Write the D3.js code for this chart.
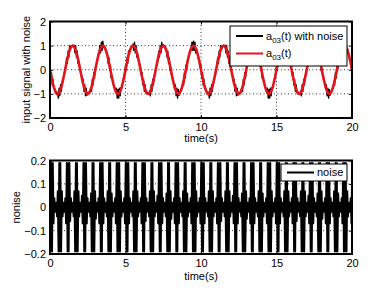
<!DOCTYPE html>
<html>
<head>
  <meta charset="utf-8"/>
  <style>
    body { margin: 0; background: #fff; }
    svg { display: block; font-family: "Liberation Sans", Arial, sans-serif; }
    .grid line { stroke: #000; stroke-width: 0.8; stroke-dasharray: 1,2.5; }
    .axis text { font-size: 11px; fill: #000; }
    .axis line { stroke: #000; }
    .axis path { display: none; }
  </style>
</head>
<body>
  <div id="chart"></div>
  <script src="https://d3js.org/d3.v7.min.js"></script>
  <script>
    // samples every 0.05 s from 0 to 20 s
    let dt = 0.05;
    let xTicks = [0, 5, 10, 15, 20];
    let topYTicks = [-2, -1, 0, 1, 2];
    let botYTicks = [-0.2, -0.1, 0, 0.1, 0.2];

    // a03(t), red curve
    let a03 = [
      0,-.16,-.31,-.45,-.59,-.71,-.81,-.89,-.95,-.99,-1,-.99,-.95,-.89,-.81,-.71,-.59,-.45,-.31,-.16,0,.16,.31,.45,.59,.71,.81,.89,.95,.99,1,.99,.95,.89,.81,.71,.59,.45,.31,.16,
      0,-.16,-.31,-.45,-.59,-.71,-.81,-.89,-.95,-.99,-1,-.99,-.95,-.89,-.81,-.71,-.59,-.45,-.31,-.16,0,.16,.31,.45,.59,.71,.81,.89,.95,.99,1,.99,.95,.89,.81,.71,.59,.45,.31,.16,
      0,-.16,-.31,-.45,-.59,-.71,-.81,-.89,-.95,-.99,-1,-.99,-.95,-.89,-.81,-.71,-.59,-.45,-.31,-.16,0,.16,.31,.45,.59,.71,.81,.89,.95,.99,1,.99,.95,.89,.81,.71,.59,.45,.31,.16,
      0,-.16,-.31,-.45,-.59,-.71,-.81,-.89,-.95,-.99,-1,-.99,-.95,-.89,-.81,-.71,-.59,-.45,-.31,-.16,0,.16,.31,.45,.59,.71,.81,.89,.95,.99,1,.99,.95,.89,.81,.71,.59,.45,.31,.16,
      0,-.16,-.31,-.45,-.59,-.71,-.81,-.89,-.95,-.99,-1,-.99,-.95,-.89,-.81,-.71,-.59,-.45,-.31,-.16,0,.16,.31,.45,.59,.71,.81,.89,.95,.99,1,.99,.95,.89,.81,.71,.59,.45,.31,.16,
      0,-.16,-.31,-.45,-.59,-.71,-.81,-.89,-.95,-.99,-1,-.99,-.95,-.89,-.81,-.71,-.59,-.45,-.31,-.16,0,.16,.31,.45,.59,.71,.81,.89,.95,.99,1,.99,.95,.89,.81,.71,.59,.45,.31,.16,
      0,-.16,-.31,-.45,-.59,-.71,-.81,-.89,-.95,-.99,-1,-.99,-.95,-.89,-.81,-.71,-.59,-.45,-.31,-.16,0,.16,.31,.45,.59,.71,.81,.89,.95,.99,1,.99,.95,.89,.81,.71,.59,.45,.31,.16,
      0,-.16,-.31,-.45,-.59,-.71,-.81,-.89,-.95,-.99,-1,-.99,-.95,-.89,-.81,-.71,-.59,-.45,-.31,-.16,0,.16,.31,.45,.59,.71,.81,.89,.95,.99,1,.99,.95,.89,.81,.71,.59,.45,.31,.16,
      0,-.16,-.31,-.45,-.59,-.71,-.81,-.89,-.95,-.99,-1,-.99,-.95,-.89,-.81,-.71,-.59,-.45,-.31,-.16,0,.16,.31,.45,.59,.71,.81,.89,.95,.99,1,.99,.95,.89,.81,.71,.59,.45,.31,.16,
      0,-.16,-.31,-.45,-.59,-.71,-.81,-.89,-.95,-.99,-1,-.99,-.95,-.89,-.81,-.71,-.59,-.45,-.31,-.16,0,.16,.31,.45,.59,.71,.81,.89,.95,.99,1,.99,.95,.89,.81,.71,.59,.45,.31,.16,
      0
    ];

    // noise, bottom plot
    let noise = [
      .19,-.19,.19,-.19,.19,-.07,.04,-.02,.02,-.04,.07,  -.19,.19,-.19,.19,-.19,.07,-.04,.02,-.02,.04,-.07,
      .19,-.19,.19,-.19,.19,-.06,.04,-.02,.02,-.04,.07,  -.19,.19,-.19,.19,-.19,.07,-.04,.02,-.02,.05,-.07,
      .19,-.19,.19,-.19,.19,-.07,.04,-.02,.02,-.04,.06,  -.19,.19,-.19,.19,-.19,.07,-.05,.02,-.02,.04,-.07,
      .19,-.19,.19,-.19,.19,-.07,.04,-.02,.02,-.04,.07,  -.19,.19,-.19,.19,-.19,.06,-.04,.02,-.02,.04,-.07,
      .19,-.19,.19,-.19,.19,-.19,.07,-.04,.02,-.02,.04,-.07,
      .19,-.19,.19,-.19,.19,-.07,.04,-.02,.02,-.04,.07,  -.19,.19,-.19,.19,-.19,.07,-.04,.02,-.02,.04,-.07,
      .19,-.19,.19,-.19,.19,-.06,.04,-.02,.02,-.04,.07,  -.19,.19,-.19,.19,-.19,.07,-.04,.02,-.02,.05,-.07,
      .19,-.19,.19,-.19,.19,-.07,.04,-.02,.02,-.04,.06,  -.19,.19,-.19,.19,-.19,.07,-.05,.02,-.02,.04,-.07,
      .19,-.19,.19,-.19,.19,-.07,.04,-.02,.02,-.04,.07,  -.19,.19,-.19,.19,-.19,.06,-.04,.02,-.02,.04,-.07,
      .19,-.19,.19,-.19,.19,-.19,.07,-.04,.02,-.02,.04,-.07,
      .19,-.19,.19,-.19,.19,-.07,.04,-.02,.02,-.04,.07,  -.19,.19,-.19,.19,-.19,.07,-.04,.02,-.02,.04,-.07,
      .19,-.19,.19,-.19,.19,-.06,.04,-.02,.02,-.04,.07,  -.19,.19,-.19,.19,-.19,.07,-.04,.02,-.02,.05,-.07,
      .19,-.19,.19,-.19,.19,-.07,.04,-.02,.02,-.04,.06,  -.19,.19,-.19,.19,-.19,.07,-.05,.02,-.02,.04,-.07,
      .19,-.19,.19,-.19,.19,-.07,.04,-.02,.02,-.04,.07,  -.19,.19,-.19,.19,-.19,.06,-.04,.02,-.02,.04,-.07,
      .19,-.19,.19,-.19,.19,-.19,.07,-.04,.02,-.02,.04,-.07,
      .19,-.19,.19,-.19,.19,-.07,.04,-.02,.02,-.04,.07,  -.19,.19,-.19,.19,-.19,.07,-.04,.02,-.02,.04,-.07,
      .19,-.19,.19,-.19,.19,-.06,.04,-.02,.02,-.04,.07,  -.19,.19,-.19,.19,-.19,.07,-.04,.02,-.02,.05,-.07,
      .19,-.19,.19,-.19,.19,-.07,.04,-.02,.02,-.04,.06,  -.19,.19,-.19,.19,-.19,.07,-.05,.02,-.02,.04,-.07,
      .19,-.19,.19,-.19,.19,-.07,.04,-.02,.02,-.04,.07,  -.19,.19,-.19,.19,-.19,.06,-.04,.02,-.02,.04,-.07,
      .19,-.19,.19,-.19,.19,-.19,.07,-.04,.02,-.02,.04,-.07,
      .19
    ];

    let width = 388, height = 292;
    let left = 50, right = 352;

    let svg = d3.select('#chart')
        .append('svg')
        .attr('width', width)
        .attr('height', height);

    let x = d3.scaleLinear().domain([0, 20]).range([left, right]);

    function panel(id, y0, y1, yDomain, yTicks, yFmt, series, yLabel, labelX, xLabelY) {
      let y = d3.scaleLinear().domain(yDomain).range([y1, y0]);
      let g = svg.append('g');

      g.append('clipPath').attr('id', id)
        .append('rect')
        .attr('x', left).attr('y', y0)
        .attr('width', right - left).attr('height', y1 - y0);

      // dotted grid
      let grid = g.append('g').attr('class', 'grid');
      grid.selectAll('.gx').data(xTicks.slice(1, -1)).enter()
        .append('line')
        .attr('x1', d => x(d)).attr('x2', d => x(d))
        .attr('y1', y0).attr('y2', y1);
      grid.selectAll('.gy').data(yTicks.slice(1, -1)).enter()
        .append('line')
        .attr('x1', left).attr('x2', right)
        .attr('y1', d => y(d)).attr('y2', d => y(d));

      let data = g.append('g').attr('clip-path', 'url(#' + id + ')');
      series.forEach(function (s) {
        let line = d3.line()
            .x((d, i) => x(i * dt))
            .y(d => y(d));
        data.append('path')
          .datum(s.values)
          .attr('fill', 'none')
          .attr('stroke', s.color)
          .attr('stroke-width', s.width)
          .attr('stroke-linejoin', 'round')
          .attr('d', line);
      });

      // axes with inward ticks
      g.append('g').attr('class', 'axis')
        .attr('transform', 'translate(0,' + y1 + ')')
        .call(d3.axisBottom(x).tickValues(xTicks).tickSize(-3).tickPadding(5));
      g.append('g').attr('class', 'axis')
        .attr('transform', 'translate(0,' + y0 + ')')
        .call(d3.axisTop(x).tickValues(xTicks).tickSize(-3).tickFormat(''));
      g.append('g').attr('class', 'axis')
        .attr('transform', 'translate(' + left + ',0)')
        .call(d3.axisLeft(y).tickValues(yTicks).tickSize(-3).tickPadding(4).tickFormat(yFmt));
      g.append('g').attr('class', 'axis')
        .attr('transform', 'translate(' + right + ',0)')
        .call(d3.axisRight(y).tickValues(yTicks).tickSize(-3).tickFormat(''));

      g.append('rect')
        .attr('x', left).attr('y', y0)
        .attr('width', right - left).attr('height', y1 - y0)
        .attr('fill', 'none')
        .attr('stroke', '#000')
        .attr('stroke-width', 2);

      g.append('text')
        .attr('x', (left + right) / 2).attr('y', xLabelY)
        .attr('text-anchor', 'middle')
        .attr('font-size', 11)
        .text('time(s)');

      g.append('text')
        .attr('transform', 'translate(' + labelX + ',' + (y0 + y1) / 2 + ') rotate(-90)')
        .attr('text-anchor', 'middle')
        .attr('font-size', 11)
        .text(yLabel);

      return g;
    }

    let noisy = a03.map((d, i) => d + noise[i]);

    let topPanel = panel('clipTop', 21.5, 118, [-2, 2], topYTicks, d3.format('d'),
        [{values: noisy, color: '#000', width: 1.3},
         {values: a03, color: '#e4141b', width: 2.6}],
        'input signal with noise', 30, 141.5);

    let botPanel = panel('clipBot', 160.5, 254, [-0.2, 0.2], botYTicks,
        d => d === 0 ? '0' : d3.format('.1f')(d),
        [{values: noise, color: '#000', width: 1.5}],
        'nonise', 20, 279.5);

    // legends
    function legend(g, bx, by, bw, bh, items) {
      g.append('rect')
        .attr('x', bx).attr('y', by).attr('width', bw).attr('height', bh)
        .attr('fill', '#fff').attr('stroke', '#000').attr('stroke-width', 1);
      items.forEach(function (it) {
        g.append('line')
          .attr('x1', bx + 6).attr('x2', bx + 33)
          .attr('y1', it.y).attr('y2', it.y)
          .attr('stroke', it.color).attr('stroke-width', 2);
        let t = g.append('text')
          .attr('x', bx + 36).attr('y', it.y + 3.5)
          .attr('font-size', 11);
        it.parts.forEach(function (p) {
          t.append('tspan')
            .attr('font-size', p.sub ? 8 : 11)
            .attr('dy', p.dy || 0)
            .text(p.text);
        });
      });
    }

    legend(topPanel, 230, 26, 117, 40, [
      {y: 36, color: '#000', parts: [{text: 'a'}, {text: '03', sub: true, dy: 3}, {text: '(t) with noise', dy: -3}]},
      {y: 53.5, color: '#e4141b', parts: [{text: 'a'}, {text: '03', sub: true, dy: 3}, {text: '(t)', dy: -3}]}
    ]);

    legend(botPanel, 281, 164, 66, 17, [
      {y: 172.5, color: '#000', parts: [{text: 'noise'}]}
    ]);
  </script>
</body>
</html>
